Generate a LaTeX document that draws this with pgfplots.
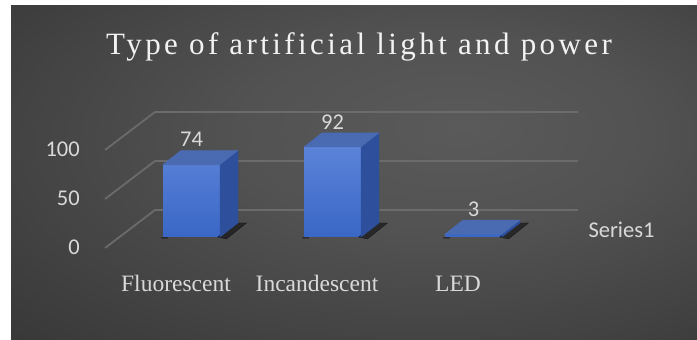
\documentclass[border=0pt]{standalone}
\usepackage{pgfplots}
\pgfplotsset{compat=1.18}
\usepackage{pgfplotstable}
\usepackage{fontspec}
\setmainfont{Liberation Serif}
\newfontfamily\carlito{Carlito}
\definecolor{bg0}{HTML}{5A5A5A}
\definecolor{bg1}{HTML}{525252}
\definecolor{bg2}{HTML}{3E3E3E}
\definecolor{bg3}{HTML}{2B2B2B}
\definecolor{bg4}{HTML}{232323}
\definecolor{frontTop}{HTML}{5B83D8}
\definecolor{frontBot}{HTML}{3A67C6}
\definecolor{topcol}{HTML}{4A6AB2}
\definecolor{sidecol}{HTML}{2D4F9C}
\definecolor{gridc}{HTML}{6B6B6B}
\definecolor{lbl}{HTML}{D9D9D9}
\definecolor{titlecol}{HTML}{F2F2F2}
\pgfdeclareplotmark{none3d}{}
\pgfdeclareradialshading{bgsh}{\pgfpoint{8bp}{7bp}}{color(0bp)=(bg0); color(15bp)=(bg1); color(35bp)=(bg2); color(55bp)=(bg3); color(85bp)=(bg4)}

\pgfplotstableread{
x y
0 74
1 92
2 3
}\lightdata

\begin{document}
\begin{tikzpicture}
\useasboundingbox (0,0) rectangle (697pt,340pt);
\fill[white] (0,0) rectangle (697pt,340pt);
\shade[shading=bgsh] (11pt,0pt) rectangle (697pt,334pt);
% title
\node[anchor=base, font=\fontsize{31}{35}\selectfont\addfontfeatures{LetterSpace=11}, text=titlecol] at (359pt,285pt) {Type of artificial light and power};
\node[font=\carlito\fontsize{22.5}{26}\selectfont, text=lbl] at (621.5pt,110pt) {Series1};
\begin{axis}[
  at={(191.5pt,103pt)}, anchor=origin,
  x=141pt, y=0.98pt,
  xmin=-0.791, xmax=2.9, ymin=-56.1, ymax=135,
  clip=false,
  axis line style={draw=none},
  tick style={draw=none},
  xtick={0,1,2},
  xticklabels={Fluorescent,Incandescent,LED},
  ytick={0,50,100},
  /pgf/number format/assume math mode=true,
  xticklabel style={anchor=base, inner sep=0pt, xshift=-15.5pt, font=\fontsize{23.5}{26}\selectfont, text=lbl},
  yticklabel style={anchor=east, inner sep=0pt, yshift=-10.5pt, font=\carlito\fontsize{22.5}{26}\selectfont, text=lbl},
]
% 3D floor / wall grid
\draw[gridc, line width=1.8pt, line join=round] (axis cs:-0.613,-11.2) -- (axis cs:-0.259,27.55) -- (axis cs:2.741,27.55);
\draw[gridc, line width=1.8pt, line join=round] (axis cs:-0.613,38.8) -- (axis cs:-0.259,77.55) -- (axis cs:2.741,77.55);
\draw[gridc, line width=1.8pt, line join=round] (axis cs:-0.613,88.8) -- (axis cs:-0.259,127.55) -- (axis cs:2.741,127.55);
% depth faces of the bars (top, side, shadow)
\addplot[scatter, only marks, mark=none3d,
  visualization depends on={rawy \as \val},
  scatter/@pre marker code/.code={%
    \begin{scope}
    \pgfmathsetmacro\hh{-\val*0.98}%
    \pgfmathsetmacro\hb{14-\val*0.98}%
    \pgfmathsetmacro\hs{-\val*0.98-2}%
    \pgfmathsetmacro\hm{-\val*0.98-1}%
    \fill[black, opacity=0.5] (26pt,\hh pt) -- (46.5pt,\hb pt) -- (55pt,\hb pt) -- (35pt,\hs pt) -- cycle;
    \fill[black, opacity=0.25] (-30pt,\hh pt) -- (-24pt,\hh pt) -- (-24pt,\hm pt) -- (-30pt,\hm pt) -- cycle;
    \fill[sidecol] (28.5pt,\hh pt) -- (28.5pt,0pt) -- (46.5pt,14pt) -- (46.5pt,\hb pt) -- cycle;
    \fill[topcol] (-28.5pt,0pt) -- (28.5pt,0pt) -- (46.5pt,14pt) -- (-10.5pt,14pt) -- cycle;
  },
  scatter/@post marker code/.code={\end{scope}},
] table[x=x, y=y] {\lightdata};
% front faces
\addplot[ybar, bar width=57pt, bar shift=0pt, draw=none, top color=frontTop, bottom color=frontBot,
  nodes near coords,
  every node near coord/.append style={anchor=south, inner sep=0pt, yshift=17.5pt, font=\carlito\fontsize{22.5}{26}\selectfont, text=lbl},
] table[x=x, y=y] {\lightdata};
\end{axis}
\end{tikzpicture}
\end{document}
